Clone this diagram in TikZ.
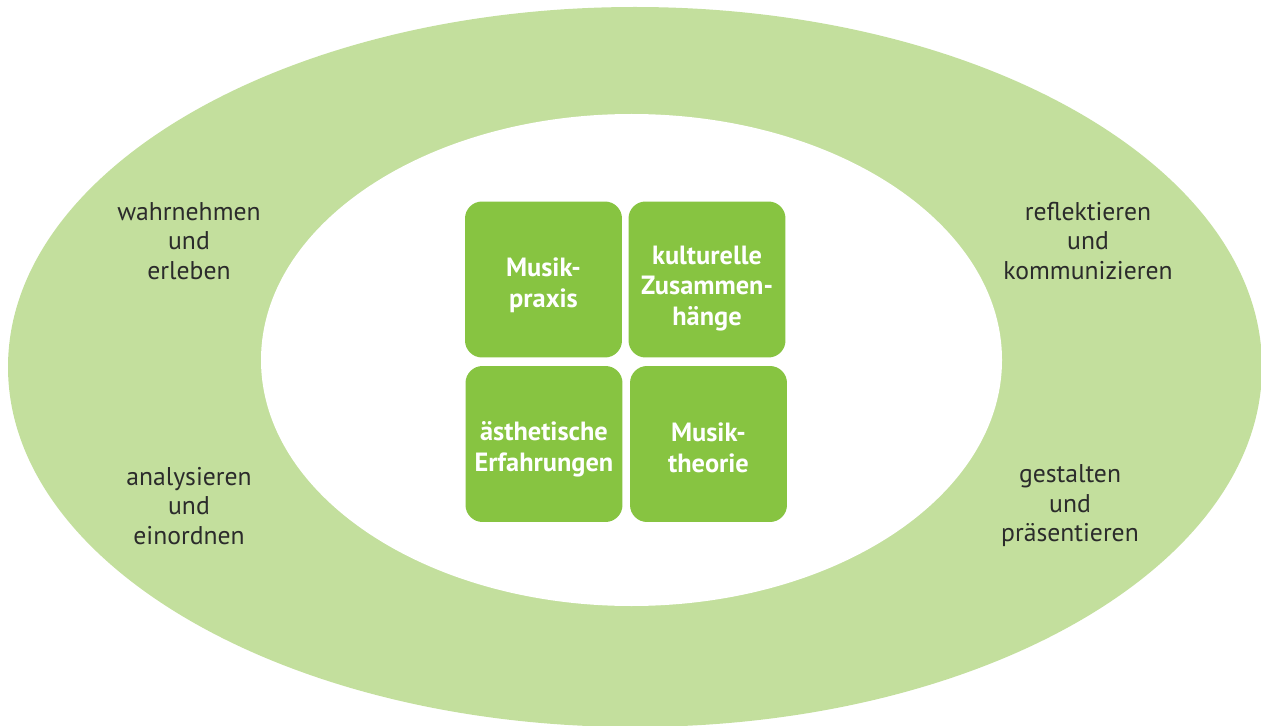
\documentclass[tikz,border=0pt]{standalone}
\usepackage{fontspec}
\setmainfont{PT Sans}
\definecolor{ringgreen}{HTML}{C3DF9D}
\definecolor{boxgreen}{HTML}{87C441}
\definecolor{labelgray}{HTML}{2B2B2B}
\begin{document}
\begin{tikzpicture}[x=0.02cm,y=-0.02cm,
	field/.style={fill=boxgreen,draw=none,rounded corners=0.34cm,minimum width=3.14cm,minimum height=3.12cm},
	fieldtext/.style={text=white,align=center,font=\fontsize{15}{17.6}\selectfont\bfseries},
	action/.style={text=labelgray,align=center,font=\fontsize{14.6}{16.8}\selectfont}]
	\useasboundingbox (0,0) rectangle (1261,726);
	% ring
	\fill[ringgreen] (635,367) ellipse [x radius=627, y radius=360];
	\fill[white] (631.5,360) ellipse [x radius=370.5, y radius=246];
	% fields
	\node [field] (praxis) at (543.5,279.5) {};
	\node [field] (kultur) at (707,279.5) {};
	\node [field] (aesthetik) at (544,444) {};
	\node [field] (theorie) at (708.5,444) {};
	\node [fieldtext] (praxistext) at ([yshift=-0.12cm]praxis) {Musik-\\praxis};
	\node [fieldtext] (kulturtext) at ([yshift=-0.18cm]kultur) {kulturelle\\Zusammen-\\hänge};
	\node [fieldtext] (aesthetiktext) at ([yshift=-0.1cm]aesthetik) {ästhetische\\Erfahrungen};
	\node [fieldtext] (theorietext) at ([yshift=-0.08cm]theorie) {Musik-\\theorie};
	% actions
	\node [action] (wahrnehmen) at (189,241) {wahrnehmen\\und\\erleben};
	\node [action] (analysieren) at (189,506) {analysieren\\und\\einordnen};
	\node [action] (reflektieren) at (1088,241) {reflektieren\\und\\kommunizieren};
	\node [action] (gestalten) at (1070,506) {gestalten\\und\\präsentieren};
\end{tikzpicture}
\end{document}
